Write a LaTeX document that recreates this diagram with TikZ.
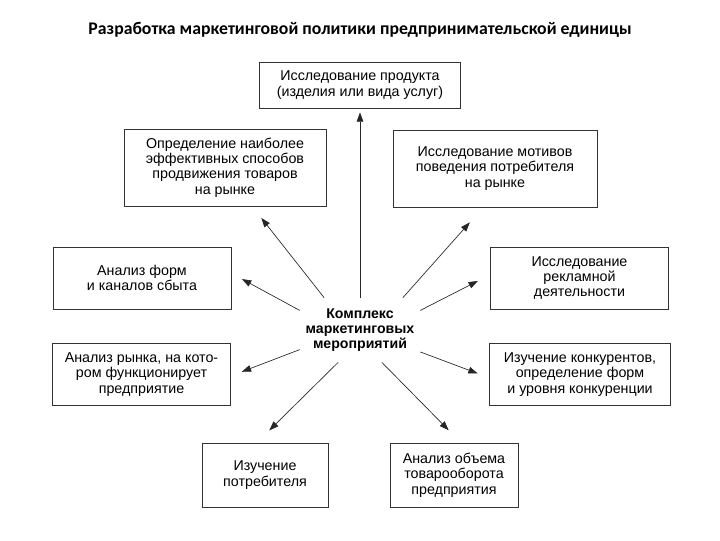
\documentclass[tikz,border=0pt]{standalone}
\usepackage{fontspec}
\setmainfont{Liberation Sans}
\newfontfamily\titlefont{Carlito}
\usetikzlibrary{arrows.meta,positioning}

\begin{document}
\begin{tikzpicture}[x=0.75pt,y=-0.75pt,
  font=\fontsize{10.7}{11.5}\selectfont,
  box/.style={draw=black!80,line width=0.6pt,align=center,inner sep=0pt},
  ray/.style={draw=black!85,line width=0.5pt,-{Triangle[length=7pt,width=5pt]}}]
\useasboundingbox (0,0) rectangle (720,540);
\node[font=\titlefont\bfseries\fontsize{13.3}{15}\selectfont] (title) at (360,30) {Разработка маркетинговой политики предпринимательской единицы};
% center
\node[align=center,font=\bfseries\fontsize{10.6}{11.5}\selectfont,minimum width=90pt,minimum height=48pt,inner sep=0pt] (c) at (360,330) {Комплекс\\маркетинговых\\мероприятий};
% boxes
\node[box,minimum width=150.75pt,minimum height=34.5pt] (prod) at (360,85) {Исследование продукта\\(изделия или вида услуг)};
\node[box,minimum width=151.5pt,minimum height=57.75pt] (promo) at (225,167.5) {Определение наиболее\\эффективных способов\\продвижения товаров\\на рынке};
\node[box,minimum width=153pt,minimum height=57.75pt] (motiv) at (495,168.5) {Исследование мотивов\\поведения потребителя\\на рынке};
\node[box,minimum width=133.5pt,minimum height=46.5pt] (sbyt) at (142,278) {Анализ форм\\и каналов сбыта};
\node[box,minimum width=133pt,minimum height=47pt] (rynok) at (141.5,374.5) {Анализ рынка, на кото-\\ром функционирует\\предприятие};
\node[box,minimum width=134pt,minimum height=46.5pt] (reklama) at (579.5,278) {Исследование\\рекламной\\деятельности};
\node[box,minimum width=136pt,minimum height=47pt] (konkur) at (580,374.5) {Изучение конкурентов,\\определение форм\\и уровня конкуренции};
\node[box,minimum width=94.5pt,minimum height=48pt] (potreb) at (265,475) {Изучение\\потребителя};
\node[box,minimum width=96pt,minimum height=48pt] (oborot) at (454,475) {Анализ объема\\товарооборота\\предприятия};
% arrows
\draw[ray,shorten >=3pt] (c.90) -- (prod.south);
\draw[ray,shorten >=11pt] (c.138) -- (promo.305);
\draw[ray,shorten >=15pt] (c.37) -- (motiv.253);
\draw[ray,shorten >=9pt] (c.162) -- (sbyt.3);
\draw[ray,shorten >=10pt] (c.18) -- (reklama.178);
\draw[ray,shorten >=9pt] (c.198) -- (rynok.359);
\draw[ray,shorten >=9pt] (c.340) -- (konkur.182);
\draw[ray,shorten >=13pt] (c.236) -- (potreb.104);
\draw[ray,shorten >=13pt] (c.304) -- (oborot.78);
\end{tikzpicture}
\end{document}
